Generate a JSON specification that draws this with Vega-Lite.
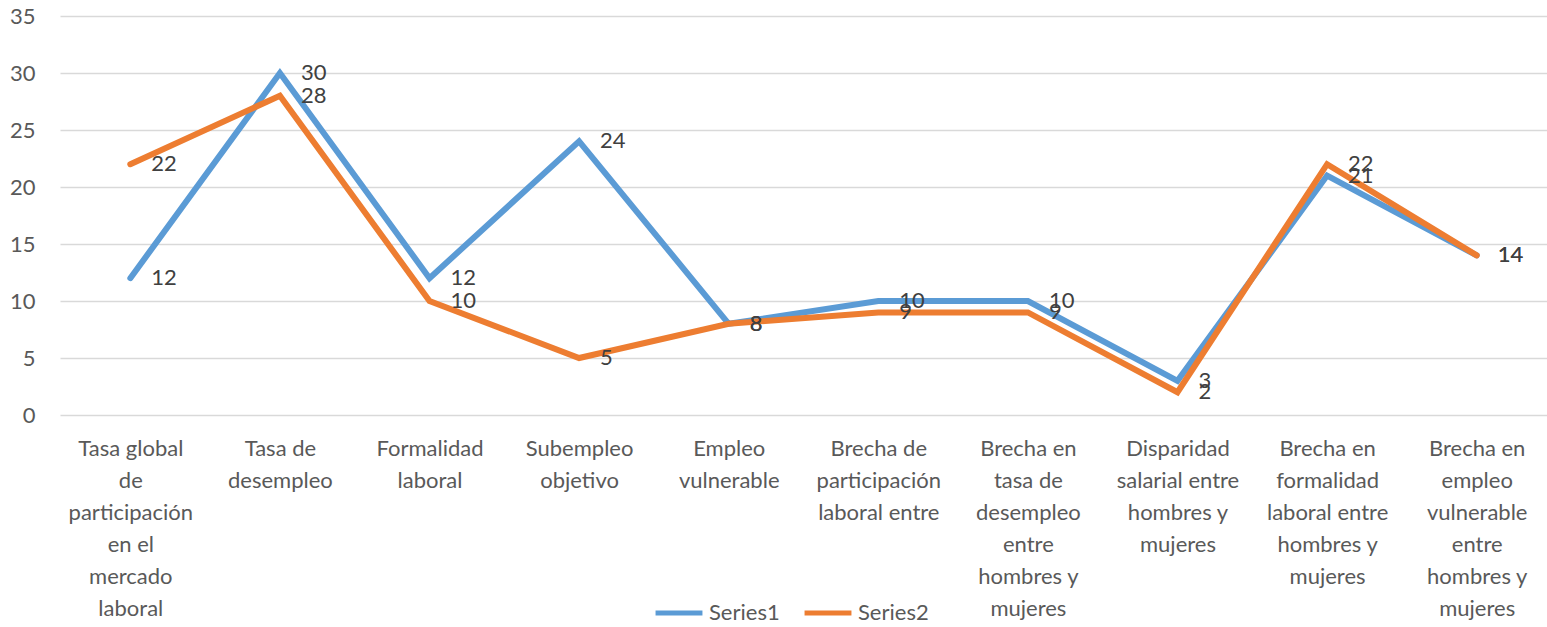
{
  "$schema": "https://vega.github.io/schema/vega-lite/v6.json",
  "width": 1487,
  "height": 399,
  "autosize": {"type": "none"},
  "padding": {"left": 60, "top": 16, "right": 0, "bottom": 212},
  "background": "white",
  "config": {
    "view": {"stroke": null},
    "font": "Lato",
    "axis": {"labelFont": "Lato", "labelColor": "#595959", "labelFontSize": 22}
  },
  "data": {
    "values": [
      {"cat": "Tasa global|de|participación|en el|mercado|laboral", "series": "Series1", "value": 12},
      {"cat": "Tasa de|desempleo", "series": "Series1", "value": 30},
      {"cat": "Formalidad|laboral", "series": "Series1", "value": 12},
      {"cat": "Subempleo|objetivo", "series": "Series1", "value": 24},
      {"cat": "Empleo|vulnerable", "series": "Series1", "value": 8},
      {"cat": "Brecha de|participación|laboral entre", "series": "Series1", "value": 10},
      {"cat": "Brecha en|tasa de|desempleo|entre|hombres y|mujeres", "series": "Series1", "value": 10},
      {"cat": "Disparidad|salarial entre|hombres y|mujeres", "series": "Series1", "value": 3},
      {"cat": "Brecha en|formalidad|laboral entre|hombres y|mujeres", "series": "Series1", "value": 21},
      {"cat": "Brecha en|empleo|vulnerable|entre|hombres y|mujeres", "series": "Series1", "value": 14},
      {"cat": "Tasa global|de|participación|en el|mercado|laboral", "series": "Series2", "value": 22},
      {"cat": "Tasa de|desempleo", "series": "Series2", "value": 28},
      {"cat": "Formalidad|laboral", "series": "Series2", "value": 10},
      {"cat": "Subempleo|objetivo", "series": "Series2", "value": 5},
      {"cat": "Empleo|vulnerable", "series": "Series2", "value": 8},
      {"cat": "Brecha de|participación|laboral entre", "series": "Series2", "value": 9},
      {"cat": "Brecha en|tasa de|desempleo|entre|hombres y|mujeres", "series": "Series2", "value": 9},
      {"cat": "Disparidad|salarial entre|hombres y|mujeres", "series": "Series2", "value": 2},
      {"cat": "Brecha en|formalidad|laboral entre|hombres y|mujeres", "series": "Series2", "value": 22},
      {"cat": "Brecha en|empleo|vulnerable|entre|hombres y|mujeres", "series": "Series2", "value": 14}
    ]
  },
  "encoding": {
    "x": {
      "field": "cat", "type": "nominal", "sort": null,
      "scale": {"type": "point", "padding": 0.47},
      "axis": {
        "title": null, "labelAngle": 0, "domain": false, "ticks": false, "tickSize": 0,
        "labelPadding": 23, "labelLineHeight": 32, "labelLimit": 0,
        "labelExpr": "split(datum.label, '|')", "labelBaseline": "top"
      }
    },
    "y": {
      "field": "value", "type": "quantitative",
      "scale": {"domain": [0, 35], "nice": false},
      "axis": {
        "title": null, "values": [0, 5, 10, 15, 20, 25, 30, 35], "domain": false,
        "ticks": false, "tickSize": 0, "labelPadding": 25, "labelFontSize": 22,
        "grid": true, "gridColor": "#d9d9d9", "gridWidth": 1.5
      }
    }
  },
  "layer": [
    {
      "mark": {"type": "line", "strokeWidth": 6, "strokeJoin": "miter", "strokeCap": "round"},
      "encoding": {
        "color": {
          "field": "series", "type": "nominal",
          "scale": {"domain": ["Series1", "Series2"], "range": ["#5B9BD5", "#ED7D31"]},
          "legend": {
            "title": null, "orient": "none", "legendX": 593, "legendY": 571,
            "direction": "horizontal", "symbolType": "stroke", "symbolStrokeWidth": 5,
            "symbolSize": 2200, "labelFontSize": 22, "labelColor": "#595959",
            "labelFont": "Lato", "labelOffset": 4, "columnPadding": 14
          }
        }
      }
    },
    {
      "mark": {"type": "text", "align": "left", "baseline": "middle", "dx": 21, "fontSize": 22, "font": "Lato", "color": "#404040"},
      "encoding": {
        "text": {"field": "value", "type": "quantitative"},
        "detail": {"field": "series"}
      }
    }
  ]
}
